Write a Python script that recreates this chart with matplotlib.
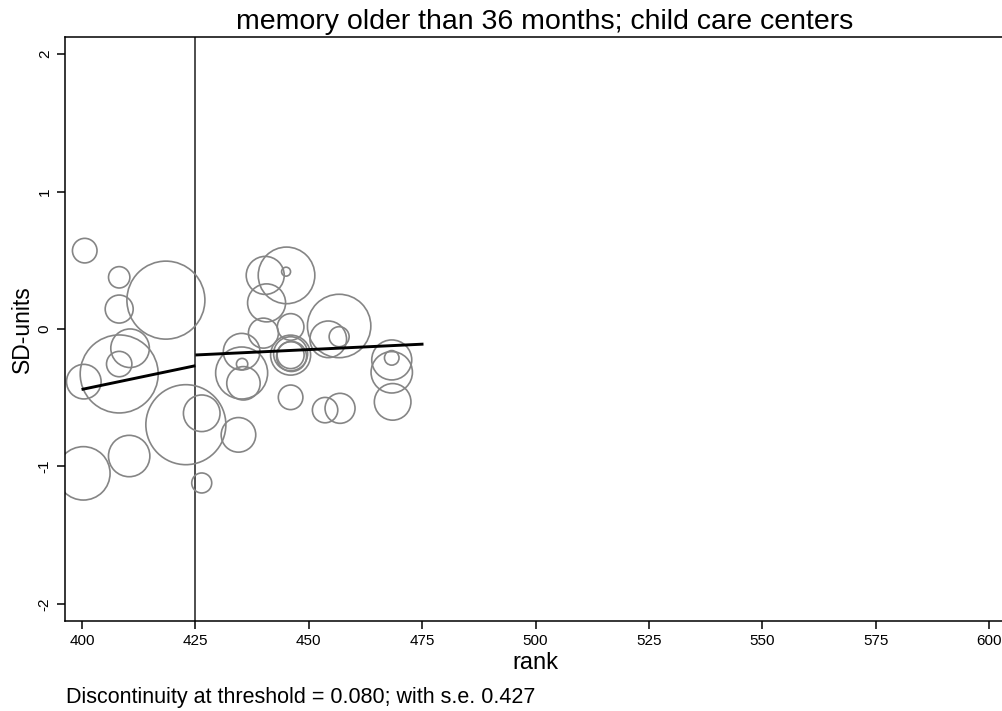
import matplotlib
matplotlib.use("Agg")
import matplotlib.pyplot as plt
import numpy as np

plt.rcParams['font.family'] = ['Liberation Sans', 'DejaVu Sans']

# data: bin rank, mean outcome (SD units), bin weight
rank = [400.6, 408.2, 408.2, 418.5, 410.6, 408.2, 408.2, 400.4, 422.9, 426.4,
        434.5, 410.4, 400.3, 426.4, 445.1, 440.4, 445.0, 440.7, 440.0, 446.0,
        456.7, 454.3, 456.7, 435.2, 435.2, 435.3, 435.6, 446.0, 446.0, 446.2,
        446.0, 468.3, 468.3, 468.3, 468.5, 446.0, 453.6, 456.9]
sd_units = [0.57, 0.376, 0.145, 0.21, -0.14, -0.255, -0.327, -0.383, -0.696, -0.613,
            -0.77, -0.924, -1.05, -1.12, 0.39, 0.39, 0.417, 0.19, -0.03, 0.015,
            0.022, -0.075, -0.056, -0.165, -0.32, -0.255, -0.395, -0.19, -0.18, -0.20,
            -0.19, -0.225, -0.21, -0.315, -0.53, -0.497, -0.59, -0.577]
weights = [151, 114, 196, 1521, 372, 161, 1521, 299, 1600, 335,
           299, 428, 713, 100, 801, 361, 20, 361, 225, 177,
           1005, 335, 100, 335, 676, 32, 279, 400, 289, 225,
           182, 400, 53, 428, 335, 151, 161, 225]

fit_left_x = [399.9, 425.0]
fit_left_y = [-0.44, -0.267]
fit_right_x = [425.0, 475.3]
fit_right_y = [-0.189, -0.11]
threshold = 425

xticks = [400, 425, 450, 475, 500, 525, 550, 575, 600]
yticks = [-2, -1, 0, 1, 2]

title = "memory older than 36 months; child care centers"
note = "Discontinuity at threshold = 0.080; with s.e. 0.427"

fig = plt.figure(figsize=(10.03, 7.11), dpi=100)
ax = fig.add_axes([65/1003, 90/711, 941/1003, 584/711])

# weights -> marker area (radius in px ~ sqrt(weight))
px_to_pt = 72/100
sizes = [(2*np.sqrt(w)*px_to_pt)**2 for w in weights]
ax.scatter(rank, sd_units, s=sizes, facecolors='none', edgecolors='#858585',
           linewidths=1.2, zorder=2)
ax.axvline(threshold, color='#404040', lw=1.3, zorder=1)
ax.plot(fit_left_x, fit_left_y, color='black', lw=2.1, zorder=3, solid_capstyle='butt')
ax.plot(fit_right_x, fit_right_y, color='black', lw=2.1, zorder=3, solid_capstyle='butt')

ax.set_xlim(396.25, 603.75)
ax.set_ylim(-2.124, 2.124)
ax.set_xticks(xticks)
ax.set_yticks(yticks)
ax.set_yticklabels([str(t) for t in yticks], rotation=90, va='center')
ax.tick_params(axis='both', direction='out', length=5.5, width=1.1, labelsize=11, pad=4)
for sp in ax.spines.values():
    sp.set_linewidth(1.1)
    sp.set_color('black')

ax.set_xlabel("rank", fontsize=17, labelpad=3)
ax.set_ylabel("SD-units", fontsize=16.5, labelpad=3)
fig.text(545/1003, 1 - 29/711, title, ha='center', va='baseline', fontsize=20.5)
fig.text(66/1003, 1 - 703/711, note, ha='left', va='baseline', fontsize=15.5)

fig.savefig("out.png", dpi=100)
